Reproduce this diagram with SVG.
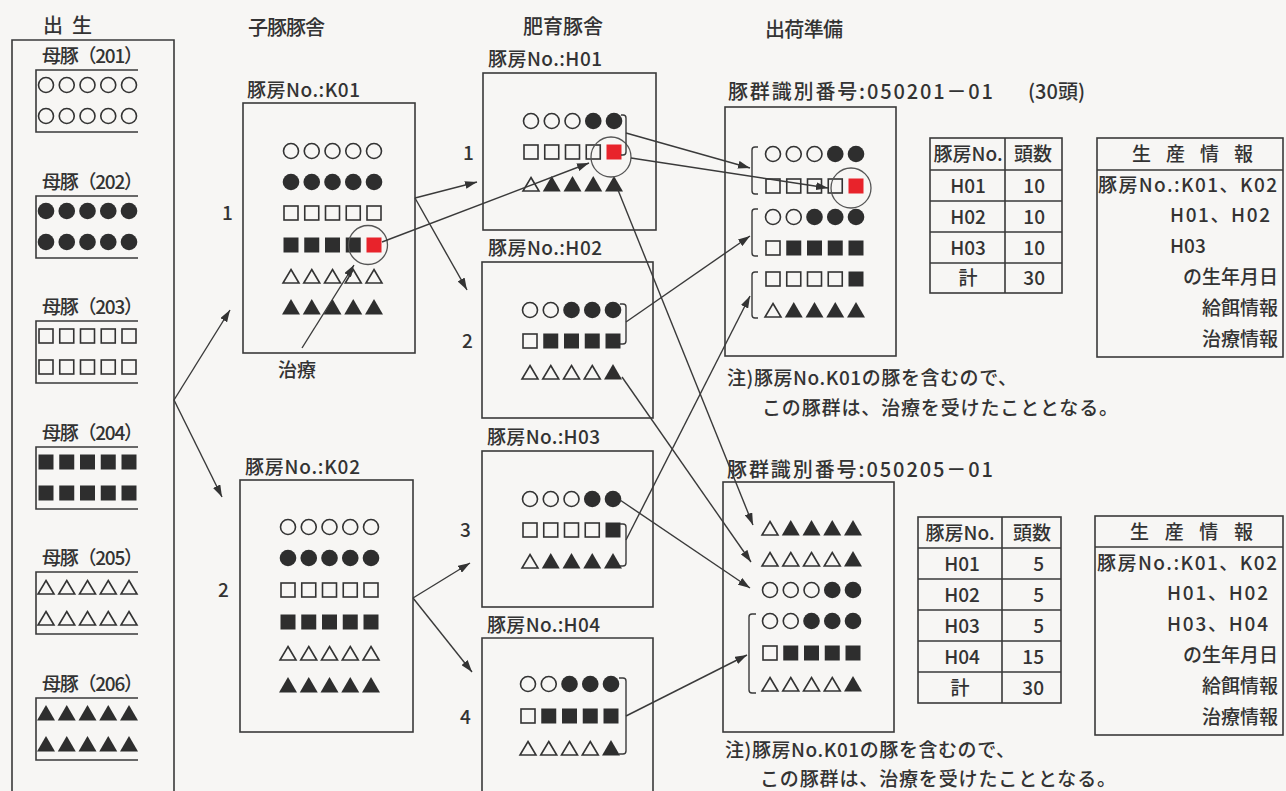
<svg xmlns="http://www.w3.org/2000/svg" width="1286" height="791" viewBox="0 0 1286 791">
<style>
.t{font-family:"Noto Sans CJK JP","Noto Sans",sans-serif;font-size:19px;font-weight:500;fill:#333}
.h{font-size:20px}
.e{text-anchor:end}
.m{text-anchor:middle}
.bx{fill:none;stroke:#3a3a3a;stroke-width:1.6}
.ln{fill:none;stroke:#3a3a3a;stroke-width:1.4}
.ar{fill:none;stroke:#3a3a3a;stroke-width:1.4;marker-end:url(#ah)}
.rc{fill:none;stroke:#555;stroke-width:1.3}
</style>
<defs>
<marker id="ah" viewBox="0 0 12 8" refX="12" refY="4" markerWidth="12" markerHeight="8" markerUnits="userSpaceOnUse" orient="auto"><path d="M0,0 L12,4 L0,8 Z" fill="#333"/></marker>
<circle id="oc" r="7.5" fill="none" stroke="#333" stroke-width="1.6"/>
<circle id="fc" r="8.3" fill="#2e2e2e"/>
<rect id="os" x="-7" y="-7" width="14" height="14" fill="none" stroke="#333" stroke-width="1.6"/>
<rect id="fs" x="-7.5" y="-7.5" width="15" height="15" fill="#2e2e2e"/>
<rect id="rs" x="-7.5" y="-7.5" width="15" height="15" fill="#e8232b"/>
<path id="ot" d="M0,-6.5 L8,7 L-8,7 Z" fill="none" stroke="#333" stroke-width="1.6"/>
<path id="ft" d="M0,-8 L9,7.5 L-9,7.5 Z" fill="#2e2e2e"/>
<g id="r-oc5"><use href="#oc"/><use href="#oc" x="20.75"/><use href="#oc" x="41.5"/><use href="#oc" x="62.25"/><use href="#oc" x="83"/></g>
<g id="r-fc5"><use href="#fc"/><use href="#fc" x="20.75"/><use href="#fc" x="41.5"/><use href="#fc" x="62.25"/><use href="#fc" x="83"/></g>
<g id="r-os5"><use href="#os"/><use href="#os" x="20.75"/><use href="#os" x="41.5"/><use href="#os" x="62.25"/><use href="#os" x="83"/></g>
<g id="r-fs5"><use href="#fs"/><use href="#fs" x="20.75"/><use href="#fs" x="41.5"/><use href="#fs" x="62.25"/><use href="#fs" x="83"/></g>
<g id="r-ot5"><use href="#ot"/><use href="#ot" x="20.75"/><use href="#ot" x="41.5"/><use href="#ot" x="62.25"/><use href="#ot" x="83"/></g>
<g id="r-ft5"><use href="#ft"/><use href="#ft" x="20.75"/><use href="#ft" x="41.5"/><use href="#ft" x="62.25"/><use href="#ft" x="83"/></g>
<g id="r-fs4r"><use href="#fs"/><use href="#fs" x="20.75"/><use href="#fs" x="41.5"/><use href="#fs" x="62.25"/><use href="#rs" x="83"/></g>
<g id="r-oc3fc2"><use href="#oc"/><use href="#oc" x="20.75"/><use href="#oc" x="41.5"/><use href="#fc" x="62.25"/><use href="#fc" x="83"/></g>
<g id="r-oc2fc3"><use href="#oc"/><use href="#oc" x="20.75"/><use href="#fc" x="41.5"/><use href="#fc" x="62.25"/><use href="#fc" x="83"/></g>
<g id="r-os4r"><use href="#os"/><use href="#os" x="20.75"/><use href="#os" x="41.5"/><use href="#os" x="62.25"/><use href="#rs" x="83"/></g>
<g id="r-os4fs1"><use href="#os"/><use href="#os" x="20.75"/><use href="#os" x="41.5"/><use href="#os" x="62.25"/><use href="#fs" x="83"/></g>
<g id="r-os1fs4"><use href="#os"/><use href="#fs" x="20.75"/><use href="#fs" x="41.5"/><use href="#fs" x="62.25"/><use href="#fs" x="83"/></g>
<g id="r-ot1ft4"><use href="#ot"/><use href="#ft" x="20.75"/><use href="#ft" x="41.5"/><use href="#ft" x="62.25"/><use href="#ft" x="83"/></g>
<g id="r-ot4ft1"><use href="#ot"/><use href="#ot" x="20.75"/><use href="#ot" x="41.5"/><use href="#ot" x="62.25"/><use href="#ft" x="83"/></g>
</defs>
<rect width="1286" height="791" fill="#f7f6f4"/>

<g id="titles">
<text class="t h" x="43" y="33" textLength="49">出 生</text>
<text class="t h" x="248" y="35" textLength="77">子豚豚舎</text>
<text class="t h" x="523" y="34" textLength="80">肥育豚舎</text>
<text class="t h" x="765" y="37" textLength="78">出荷準備</text>
</g>

<g id="n-birth">
<path class="bx" d="M12,800 V40 H174 V800"/>
<text class="t" x="42" y="63" textLength="101">母豚（201）</text>
<path class="bx" d="M138,70 H36 V132 H138"/>
<use href="#r-oc5" x="46" y="85"/><use href="#r-oc5" x="46" y="116"/>
<text class="t" x="42" y="189" textLength="101">母豚（202）</text>
<path class="bx" d="M138,196 H36 V258 H138"/>
<use href="#r-fc5" x="46" y="211"/><use href="#r-fc5" x="46" y="242"/>
<text class="t" x="42" y="314" textLength="101">母豚（203）</text>
<path class="bx" d="M138,321 H36 V383 H138"/>
<use href="#r-os5" x="46" y="336"/><use href="#r-os5" x="46" y="367"/>
<text class="t" x="42" y="440" textLength="101">母豚（204）</text>
<path class="bx" d="M138,447 H36 V509 H138"/>
<use href="#r-fs5" x="46" y="462"/><use href="#r-fs5" x="46" y="493"/>
<text class="t" x="42" y="565" textLength="101">母豚（205）</text>
<path class="bx" d="M138,572 H36 V634 H138"/>
<use href="#r-ot5" x="46" y="587"/><use href="#r-ot5" x="46" y="618"/>
<text class="t" x="42" y="691" textLength="101">母豚（206）</text>
<path class="bx" d="M138,698 H36 V760 H138"/>
<use href="#r-ft5" x="46" y="713"/><use href="#r-ft5" x="46" y="744"/>
</g>

<g id="n-k01">
<text class="t" x="247" y="97" textLength="113">豚房No.:K01</text>
<rect class="bx" x="243" y="103" width="172" height="250"/>
<text class="t" x="222" y="220">1</text>
<use href="#r-oc5" x="291" y="151"/>
<use href="#r-fc5" x="291" y="182"/>
<use href="#r-os5" x="291" y="213"/>
<use href="#r-fs4r" x="291" y="245"/>
<use href="#r-ot5" x="291" y="276"/>
<use href="#r-ft5" x="291" y="307"/>
<circle class="rc" cx="368" cy="245" r="19.5"/>
<text class="t" x="278" y="377">治療</text>
</g>

<g id="n-k02">
<text class="t" x="245" y="474" textLength="115">豚房No.:K02</text>
<rect class="bx" x="240" y="480" width="173" height="252"/>
<text class="t" x="218" y="597">2</text>
<use href="#r-oc5" x="288" y="527"/>
<use href="#r-fc5" x="288" y="558"/>
<use href="#r-os5" x="288" y="590"/>
<use href="#r-fs5" x="288" y="622"/>
<use href="#r-ot5" x="288" y="653"/>
<use href="#r-ft5" x="288" y="685"/>
</g>

<g id="n-h01">
<text class="t" x="488" y="66" textLength="114">豚房No.:H01</text>
<rect class="bx" x="483" y="73" width="173" height="157"/>
<text class="t" x="463" y="160">1</text>
<use href="#r-oc3fc2" x="531" y="121"/>
<use href="#r-os4r" x="531" y="152"/>
<use href="#r-ot1ft4" x="531" y="184"/>
<circle class="rc" cx="611" cy="157" r="20"/>
<path class="ln" d="M621,115 h2 a3,3 0 0 1 3,3 v34 a3,3 0 0 1 -3,3 h-2"/>
</g>

<g id="n-h02">
<text class="t" x="488" y="255" textLength="114">豚房No.:H02</text>
<rect class="bx" x="482" y="262" width="171" height="156"/>
<text class="t" x="462" y="348">2</text>
<use href="#r-oc2fc3" x="530" y="310"/>
<use href="#r-os1fs4" x="530" y="341"/>
<use href="#r-ot4ft1" x="530" y="372"/>
<path class="ln" d="M620,304 h3 a3,3 0 0 1 3,3 v34 a3,3 0 0 1 -3,3 h-3"/>
</g>

<g id="n-h03">
<text class="t" x="487" y="444" textLength="113">豚房No.:H03</text>
<rect class="bx" x="482" y="451" width="171" height="156"/>
<text class="t" x="460" y="537">3</text>
<use href="#r-oc3fc2" x="530" y="499"/>
<use href="#r-os4fs1" x="530" y="530"/>
<use href="#r-ot1ft4" x="530" y="561"/>
<path class="ln" d="M620,524 h3 a3,3 0 0 1 3,3 v36 a3,3 0 0 1 -3,3 h-3"/>
</g>

<g id="n-h04">
<text class="t" x="487" y="632" textLength="113">豚房No.:H04</text>
<path class="bx" d="M482,800 V638 H653 V800"/>
<text class="t" x="460" y="724">4</text>
<use href="#r-oc2fc3" x="528" y="684"/>
<use href="#r-os1fs4" x="528" y="716"/>
<use href="#r-ot4ft1" x="528" y="748"/>
<path class="ln" d="M619,678 h4 a3,3 0 0 1 3,3 v70 a3,3 0 0 1 -3,3 h-4"/>
</g>

<g id="n-g1">
<text class="t h" x="728" y="99" textLength="265">豚群識別番号:050201－01</text>
<text class="t h" x="1028" y="99">(30頭)</text>
<rect class="bx" x="725" y="107" width="171" height="249"/>
<use href="#r-oc3fc2" x="773" y="154"/>
<use href="#r-os4r" x="773" y="186"/>
<use href="#r-oc2fc3" x="773" y="217"/>
<use href="#r-os1fs4" x="773" y="248"/>
<use href="#r-os4fs1" x="773" y="279"/>
<use href="#r-ot1ft4" x="773" y="310"/>
<circle class="rc" cx="851" cy="188" r="20"/>
<path class="ln" d="M758,147 h-3 a3,3 0 0 0 -3,3 v41 a3,3 0 0 0 3,3 h3"/>
<path class="ln" d="M758,209 h-3 a3,3 0 0 0 -3,3 v41 a3,3 0 0 0 3,3 h3"/>
<path class="ln" d="M758,272 h-3 a3,3 0 0 0 -3,3 v40 a3,3 0 0 0 3,3 h3"/>
</g>

<g id="n-g2">
<text class="t h" x="727" y="477" textLength="266">豚群識別番号:050205－01</text>
<rect class="bx" x="723" y="482" width="171" height="250"/>
<use href="#r-ot1ft4" x="770" y="528"/>
<use href="#r-ot4ft1" x="770" y="559"/>
<use href="#r-oc3fc2" x="770" y="590"/>
<use href="#r-oc2fc3" x="770" y="621"/>
<use href="#r-os1fs4" x="770" y="653"/>
<use href="#r-ot4ft1" x="770" y="684"/>
<path class="ln" d="M756,614 h-4 a3,3 0 0 0 -3,3 v73 a3,3 0 0 0 3,3 h4"/>
</g>

<g id="n-t1">
<rect class="bx" x="930" y="138" width="132" height="155"/>
<path class="bx" d="M1005,138 V293 M930,170 H1062 M930,201 H1062 M930,232 H1062 M930,263 H1062"/>
<text class="t m" x="968" y="161">豚房No.</text><text class="t m" x="1033" y="161">頭数</text>
<text class="t m" x="968" y="193">H01</text><text class="t e" x="1045" y="193">10</text>
<text class="t m" x="968" y="224">H02</text><text class="t e" x="1045" y="224">10</text>
<text class="t m" x="968" y="255">H03</text><text class="t e" x="1045" y="255">10</text>
<text class="t m" x="968" y="285">計</text><text class="t e" x="1045" y="285">30</text>
</g>

<g id="n-t2">
<rect class="bx" x="918" y="517" width="143" height="186"/>
<path class="bx" d="M1002,517 V703 M918,548 H1061 M918,579 H1061 M918,610 H1061 M918,641 H1061 M918,672 H1061"/>
<text class="t m" x="960" y="540">豚房No.</text><text class="t m" x="1032" y="540">頭数</text>
<text class="t m" x="962" y="571">H01</text><text class="t e" x="1044" y="571">5</text>
<text class="t m" x="962" y="602">H02</text><text class="t e" x="1044" y="602">5</text>
<text class="t m" x="962" y="633">H03</text><text class="t e" x="1044" y="633">5</text>
<text class="t m" x="962" y="664">H04</text><text class="t e" x="1044" y="664">15</text>
<text class="t m" x="960" y="695">計</text><text class="t e" x="1044" y="695">30</text>
</g>

<g id="n-p1">
<rect class="bx" x="1097" y="138" width="186" height="219"/>
<path class="bx" d="M1097,170 H1283"/>
<text class="t" x="1132" y="161" textLength="121">生 産 情 報</text>
<text class="t" x="1098" y="192" textLength="179">豚房No.:K01、K02</text>
<text class="t" x="1170" y="222" textLength="100">H01、H02</text>
<text class="t" x="1170" y="253">H03</text>
<text class="t e" x="1278" y="284">の生年月日</text>
<text class="t e" x="1278" y="315">給餌情報</text>
<text class="t e" x="1278" y="346">治療情報</text>
</g>

<g id="n-p2">
<rect class="bx" x="1095" y="516" width="188" height="219"/>
<path class="bx" d="M1095,547 H1283"/>
<text class="t" x="1130" y="539" textLength="123">生 産 情 報</text>
<text class="t" x="1097" y="570" textLength="180">豚房No.:K01、K02</text>
<text class="t" x="1167" y="600" textLength="101">H01、H02</text>
<text class="t" x="1167" y="631" textLength="101">H03、H04</text>
<text class="t e" x="1278" y="662">の生年月日</text>
<text class="t e" x="1278" y="693">給餌情報</text>
<text class="t e" x="1278" y="724">治療情報</text>
</g>

<g id="notes">
<text class="t" x="727" y="385" textLength="290">注)豚房No.K01の豚を含むので、</text>
<text class="t" x="762" y="415" textLength="356">この豚群は、治療を受けたこととなる。</text>
<text class="t" x="725" y="757" textLength="290">注)豚房No.K01の豚を含むので、</text>
<text class="t" x="760" y="786" textLength="356">この豚群は、治療を受けたこととなる。</text>
</g>

<g id="connectors">
<path class="ar" d="M174,400 L230,310"/>
<path class="ar" d="M174,400 L222,497"/>
<path class="ar" d="M415,198 L477,182"/>
<path class="ar" d="M415,198 L467,290"/>
<path class="ar" d="M413,598 L470,563"/>
<path class="ar" d="M413,598 L472,672"/>
<path class="ar" d="M382,242 L589,163"/>
<path class="ar" d="M302,348 L354,265"/>
<path class="ar" d="M626,133 L750,168"/>
<path class="ar" d="M631,158 L828,188"/>
<path class="ar" d="M618,190 L753,525"/>
<path class="ar" d="M626,322 L750,236"/>
<path class="ar" d="M622,377 L751,562"/>
<path class="ar" d="M620,500 L750,588"/>
<path class="ar" d="M626,540 L750,296"/>
<path class="ar" d="M626,716 L747,655"/>
</g>
</svg>
